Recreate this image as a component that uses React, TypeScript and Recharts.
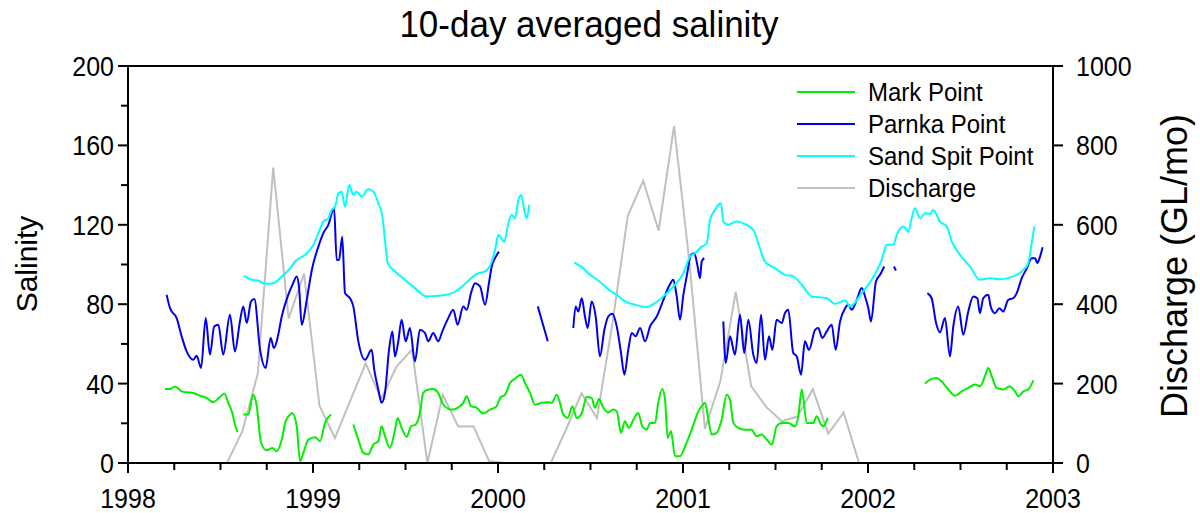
import { LineChart, Line, XAxis, YAxis, ReferenceLine } from "recharts";

const FONT = '"Liberation Sans", Arial, Helvetica, sans-serif';

// [decimal year, salinity]; null marks a break in the record
const markPoint: [number, number | null][] = [
  [1998.2, 37.3], [1998.227, 37.3], [1998.254, 38.6], [1998.29, 36.1], [1998.317, 35.6], [1998.353, 35.3],
  [1998.389, 33.9], [1998.425, 32.8], [1998.461, 30.6], [1998.492, 32.8], [1998.521, 35], [1998.542, 30.3],
  [1998.564, 25.2], [1998.578, 19.4], [1998.593, 15.5], [1998.608, null],
  [1998.623, 24.4], [1998.65, 24.4], [1998.677, 34.4], [1998.696, 28.6], [1998.719, 10.2], [1998.75, 6.4],
  [1998.78, 7.6], [1998.804, 5.9], [1998.831, 11.8], [1998.852, 21], [1998.876, 24.4], [1998.888, 25.2],
  [1998.912, 18.5], [1998.93, 0.9], [1998.948, 5.1], [1998.975, 11.8], [1999.011, 13], [1999.038, 11],
  [1999.065, 20.2], [1999.097, 24.4], [1999.15, null],
  [1999.218, 19.4], [1999.245, 11.8], [1999.272, 5.1], [1999.299, 4.3], [1999.326, 9.3], [1999.353, 11],
  [1999.371, 18.5], [1999.389, 13.5], [1999.416, 7.6], [1999.44, 15.2], [1999.458, 22.7], [1999.479, 17.7],
  [1999.507, 13.2], [1999.53, 18.5], [1999.555, 19.4], [1999.578, 25.2], [1999.596, 35.3], [1999.623, 37],
  [1999.65, 37.3], [1999.677, 35.3], [1999.699, 30.3], [1999.731, 27.3], [1999.75, 26.9], [1999.782, 27.8],
  [1999.812, 30.3], [1999.831, 33.6], [1999.854, 28.6], [1999.885, 27.8], [1999.921, 24.9], [1999.957, 26.9],
  [1999.993, 28.6], [2000.011, 32.8], [2000.038, 34.4], [2000.065, 40.3], [2000.096, 42.8], [2000.124, 44.5],
  [2000.146, 40.3], [2000.173, 35.3], [2000.2, 29.4], [2000.236, 30.3], [2000.272, 30.6], [2000.29, 30.3],
  [2000.317, 34.4], [2000.335, 30.3], [2000.353, 24.4], [2000.377, 22.7], [2000.402, 28.6], [2000.425, 22.7],
  [2000.453, 25.2], [2000.479, 33.3], [2000.506, 32.8], [2000.524, 27.8], [2000.546, 32.3], [2000.569, 27.8],
  [2000.596, 25.5], [2000.623, 26.9], [2000.642, 26], [2000.665, 15.2], [2000.686, 21], [2000.708, 17.7],
  [2000.732, 21.9], [2000.758, 25.2], [2000.78, 18.5], [2000.804, 16.8], [2000.822, 20.2], [2000.849, 20.2],
  [2000.866, 30.3], [2000.888, 37.3], [2000.903, 31.9], [2000.917, 12.7], [2000.935, 16], [2000.957, 3.4],
  [2000.984, 3.4], [2001.011, 8.4], [2001.047, 16.8], [2001.083, 26], [2001.101, 28.6], [2001.119, 30.3],
  [2001.137, 21.9], [2001.155, 14.3], [2001.182, 15.2], [2001.209, 21.9], [2001.236, 34.4], [2001.254, 31.9],
  [2001.272, 20.2], [2001.299, 17.7], [2001.335, 16.8], [2001.371, 16.8], [2001.398, 13.5], [2001.425, 14.3],
  [2001.453, 11.8], [2001.48, 9.3], [2001.506, 18.5], [2001.534, 20.2], [2001.569, 20.2], [2001.605, 18.5],
  [2001.623, 23.5], [2001.642, 37], [2001.669, 20.2], [2001.704, 20.2], [2001.723, 23.5], [2001.746, 19.4],
  [2001.759, 18.5], [2001.782, 22.7], [2002.0, null],
  [2002.308, 40], [2002.335, 42], [2002.371, 42.8], [2002.398, 41.1], [2002.434, 37], [2002.47, 33.9],
  [2002.507, 36.1], [2002.542, 37.8], [2002.578, 39.5], [2002.605, 38.6], [2002.632, 43.7], [2002.65, 47.9],
  [2002.669, 43.7], [2002.696, 37.8], [2002.731, 37], [2002.764, 38.6], [2002.795, 36.1], [2002.812, 33.6],
  [2002.84, 36.1], [2002.866, 37], [2002.894, 41.6],
];

const parnkaPoint: [number, number | null][] = [
  [1998.209, 84.7], [1998.227, 78], [1998.263, 73], [1998.29, 63.8], [1998.317, 56.2], [1998.353, 52],
  [1998.371, 54], [1998.395, 47.9], [1998.42, 73], [1998.443, 54.6], [1998.466, 68.8], [1998.488, 69.7],
  [1998.515, 54.6], [1998.551, 74.7], [1998.578, 56.2], [1998.605, 71.3], [1998.623, 78.9], [1998.642, 70.5],
  [1998.665, 81.4], [1998.683, 82.6], [1998.714, 57], [1998.744, 47.9], [1998.771, 63], [1998.789, 57.9],
  [1998.812, 64.6], [1998.831, 73.8], [1998.866, 84.7], [1998.89, 90], [1998.912, 94], [1998.925, 88],
  [1998.939, 69.7], [1998.966, 82], [1998.993, 97], [1999.029, 109], [1999.056, 115.8], [1999.083, 120],
  [1999.114, 128.3], [1999.128, 102.3], [1999.141, 102.3], [1999.158, 114], [1999.173, 85.6], [1999.2, 83],
  [1999.218, 78.9], [1999.245, 61.3], [1999.281, 52], [1999.317, 57], [1999.331, 47], [1999.353, 37],
  [1999.371, 30.3], [1999.389, 35.3], [1999.411, 57], [1999.429, 66.3], [1999.443, 53.7], [1999.461, 61.3],
  [1999.479, 72.2], [1999.501, 61.3], [1999.524, 68], [1999.551, 51.2], [1999.578, 67.1], [1999.605, 65.5],
  [1999.623, 61.3], [1999.65, 65.5], [1999.677, 61.3], [1999.699, 66.3], [1999.731, 73], [1999.758, 77.2],
  [1999.782, 69.7], [1999.812, 78.9], [1999.831, 77.2], [1999.854, 85.6], [1999.876, 90.6], [1999.903, 89],
  [1999.93, 79.7], [1999.951, 90.6], [1999.966, 99], [1999.984, 103.2], [2000.005, 106.5], [2000.1, null],
  [2000.215, 78.9], [2000.269, 61.3], [2000.33, null],
  [2000.407, 68], [2000.42, 78.9], [2000.434, 76.3], [2000.453, 83], [2000.47, 73.8], [2000.485, 68],
  [2000.506, 81.4], [2000.528, 73.8], [2000.551, 53.7], [2000.575, 67.1], [2000.596, 73.8], [2000.618, 75.2],
  [2000.642, 68.8], [2000.665, 55.4], [2000.683, 44.5], [2000.704, 57], [2000.723, 65.5], [2000.744, 63.8],
  [2000.768, 68], [2000.795, 61.3], [2000.822, 68.8], [2000.858, 73.8], [2000.894, 82.2], [2000.924, 89],
  [2000.948, 92.3], [2000.966, 83.9], [2000.984, 72.2], [2001.002, 84.7], [2001.02, 94], [2001.043, 104.9],
  [2001.061, 105.7], [2001.079, 99], [2001.092, 93.1], [2001.101, 101.5], [2001.115, 103.2], [2001.16, null],
  [2001.218, 71.3], [2001.231, 50.4], [2001.254, 63.8], [2001.281, 54.6], [2001.308, 74.7], [2001.331, 55.4],
  [2001.353, 72.2], [2001.38, 54.6], [2001.398, 50.4], [2001.422, 74.7], [2001.443, 52], [2001.465, 63.8],
  [2001.483, 57], [2001.506, 72.2], [2001.534, 70.5], [2001.551, 75.5], [2001.569, 77.2], [2001.596, 55.4],
  [2001.615, 53.7], [2001.638, 44.5], [2001.659, 61.3], [2001.681, 57], [2001.714, 67.1], [2001.731, 68],
  [2001.753, 63], [2001.777, 66.3], [2001.804, 69.7], [2001.825, 57], [2001.849, 71.3], [2001.876, 78],
  [2001.894, 79.7], [2001.912, 77.2], [2001.939, 82.2], [2001.966, 88.1], [2001.984, 83.9], [2002.002, 78],
  [2002.016, 71.3], [2002.043, 91.4], [2002.065, 94.8], [2002.088, 99], [2002.12, null],
  [2002.14, 99], [2002.151, 97], [2002.2, null],
  [2002.321, 85.6], [2002.344, 83], [2002.368, 70.5], [2002.389, 65.8], [2002.416, 73], [2002.443, 53.7],
  [2002.461, 68.8], [2002.488, 78.9], [2002.515, 64.6], [2002.542, 76.3], [2002.569, 83.9], [2002.591, 83],
  [2002.605, 75.5], [2002.623, 83], [2002.65, 84.7], [2002.663, 78.9], [2002.686, 75.5], [2002.71, 78],
  [2002.731, 76.3], [2002.758, 82.2], [2002.785, 83], [2002.804, 85.6], [2002.831, 93.1], [2002.858, 98],
  [2002.885, 103.2], [2002.903, 103.2], [2002.915, 100.7], [2002.93, 104], [2002.944, 108.7],
];

const sandSpitPoint: [number, number | null][] = [
  [1998.629, 94.3], [1998.669, 92.3], [1998.704, 91.9], [1998.741, 90.3], [1998.785, 90.6], [1998.831, 94],
  [1998.876, 98], [1998.903, 101.5], [1998.957, 104.9], [1999.002, 109.9], [1999.029, 115.8], [1999.056, 121.6],
  [1999.083, 123.3], [1999.101, 127.5], [1999.119, 129.1], [1999.137, 135.9], [1999.155, 136.7], [1999.173, 129.1],
  [1999.196, 140], [1999.218, 135], [1999.236, 136.7], [1999.263, 134.2], [1999.299, 137.9], [1999.326, 136.7],
  [1999.353, 130.9], [1999.375, 124.1], [1999.389, 112.4], [1999.404, 100.7], [1999.443, 96.5], [1999.497, 92.3],
  [1999.551, 88.1], [1999.615, 83.9], [1999.677, 84.2], [1999.741, 85.2], [1999.785, 87.3], [1999.822, 90.3],
  [1999.885, 95.3], [1999.93, 96.5], [1999.966, 101.5], [1999.984, 107.4], [2000.002, 114.9], [2000.034, 111.5],
  [2000.056, 120.8], [2000.074, 125], [2000.092, 123.3], [2000.11, 132.5], [2000.124, 135], [2000.146, 125.8],
  [2000.155, 123.3], [2000.169, 130], [2000.3, null],
  [2000.412, 101], [2000.453, 98.7], [2000.488, 95.6], [2000.542, 91.9], [2000.605, 86.9], [2000.642, 84.7],
  [2000.686, 81.4], [2000.741, 79.7], [2000.804, 78.6], [2000.849, 80.6], [2000.903, 84.7], [2000.957, 89.8],
  [2001.002, 95.6], [2001.038, 104], [2001.065, 105.7], [2001.101, 109], [2001.128, 110.7], [2001.146, 122.5],
  [2001.173, 127.5], [2001.191, 130], [2001.205, 130.9], [2001.218, 121.6], [2001.245, 120], [2001.29, 121.6],
  [2001.335, 120.3], [2001.38, 117.4], [2001.407, 110.7], [2001.443, 101.5], [2001.497, 98.2], [2001.551, 94.8],
  [2001.596, 94], [2001.642, 89.8], [2001.696, 83.9], [2001.777, 83], [2001.822, 80.2], [2001.876, 81.9],
  [2001.903, 78.9], [2001.966, 85.6], [2002.02, 92.3], [2002.074, 102.3], [2002.101, 109.9], [2002.137, 109.9],
  [2002.155, 114.9], [2002.191, 119.1], [2002.218, 116.6], [2002.236, 123.3], [2002.254, 128.3], [2002.281, 123.3],
  [2002.308, 125.8], [2002.335, 125.5], [2002.353, 127.5], [2002.389, 121.6], [2002.426, 119.1], [2002.453, 111.5],
  [2002.497, 104.9], [2002.551, 99], [2002.605, 92.3], [2002.659, 93.1], [2002.714, 92.6], [2002.785, 94],
  [2002.84, 97.3], [2002.866, 100.7], [2002.885, 110.7], [2002.899, 119.1],
];

// monthly discharge, GL/mo, Jan 1998 .. Dec 2002
const dischargeMonthly = [
  0, 0, 0, 0, 0, 0, 0, 80, 226, 744, 364, 477,
  144, 63, 157, 251, 161, 243, 286, 0, 172, 92, 92, 5,
  0, 0, 0, 0, 85, 176, 113, 351, 623, 711, 585, 849,
  504, 86, 205, 431, 194, 140, 105, 117, 186, 74, 127, 0,
  0, 0, 0, 0, 0, 0, 0, 0, 0, 0, 0, 0,
];

const yearTicks = [
  1998, 1998.25, 1998.5, 1998.75, 1999, 1999.25, 1999.5, 1999.75, 2000, 2000.25, 2000.5, 2000.75,
  2001, 2001.25, 2001.5, 2001.75, 2002, 2002.25, 2002.5, 2002.75, 2003,
];
const salinityTicks = [0, 20, 40, 60, 80, 100, 120, 140, 160, 180, 200];
const dischargeTicks = [0, 200, 400, 600, 800, 1000];

const toRows = (pts: [number, number | null][]) => pts.map(([t, v]) => ({ t, v }));
const dischargeRows = dischargeMonthly.map((v, i) => ({ t: 1998 + (i + 0.42) / 12, v }));

const series = [
  { name: "Mark Point", color: "#00f000", rows: toRows(markPoint) },
  { name: "Parnka Point", color: "#0000f0", rows: toRows(parnkaPoint) },
  { name: "Sand Spit Point", color: "#00ffff", rows: toRows(sandSpitPoint) },
];
const legendItems = [...series.map((s) => ({ name: s.name, color: s.color })), { name: "Discharge", color: "#c0c0c0" }];

// the source picture's lettering is slightly taller than wide
const stretch = (x: number, y: number, sy: number) => `translate(${x} ${y}) scale(1 ${sy})`;

function YearTick({ x, y, payload }: any) {
  const major = Number.isInteger(payload.value);
  return (
    <g>
      <line x1={x} x2={x} y1={y} y2={y + (major ? 10 : 7)} stroke="#000" strokeWidth={2} />
      {major && (
        <text transform={stretch(x, y + 45, 1.12)} textAnchor="middle" fontFamily={FONT} fontSize={25} fill="#000">
          {payload.value}
        </text>
      )}
    </g>
  );
}

function SalinityTick({ x, y, payload }: any) {
  const major = payload.value % 40 === 0;
  return (
    <g>
      <line x1={x} x2={x - (major ? 10 : 7)} y1={y} y2={y} stroke="#000" strokeWidth={2} />
      {major && (
        <text transform={stretch(x - 14, y + 10, 1.12)} textAnchor="end" fontFamily={FONT} fontSize={25} fill="#000">
          {payload.value}
        </text>
      )}
    </g>
  );
}

function DischargeTick({ x, y, payload }: any) {
  return (
    <g>
      <line x1={x} x2={x + 10} y1={y} y2={y} stroke="#000" strokeWidth={2} />
      <text transform={stretch(x + 23, y + 10, 1.12)} textAnchor="start" fontFamily={FONT} fontSize={25} fill="#000">
        {payload.value}
      </text>
    </g>
  );
}

export default function App() {
  return (
    <div style={{ position: "relative", width: 1200, height: 513, background: "#fff" }}>
      <style>{"body{margin:0}"}</style>
      <LineChart width={1200} height={513} margin={{ top: 66, right: 47, bottom: 10, left: 48 }}>
        <XAxis
          type="number"
          dataKey="t"
          domain={[1998, 2003]}
          ticks={yearTicks}
          interval={0}
          height={40}
          tickSize={0}
          tickMargin={0}
          tickLine={false}
          tick={<YearTick />}
          axisLine={{ stroke: "#000", strokeWidth: 2 }}
          allowDataOverflow
        />
        <YAxis
          yAxisId="sal"
          domain={[0, 200]}
          ticks={salinityTicks}
          interval={0}
          width={80}
          tickSize={0}
          tickMargin={0}
          tickLine={false}
          tick={<SalinityTick />}
          axisLine={{ stroke: "#000", strokeWidth: 2 }}
        />
        <YAxis
          yAxisId="q"
          orientation="right"
          domain={[0, 1000]}
          ticks={dischargeTicks}
          interval={0}
          width={100}
          tickSize={0}
          tickMargin={0}
          tickLine={false}
          tick={<DischargeTick />}
          axisLine={{ stroke: "#000", strokeWidth: 2 }}
        />
        <ReferenceLine yAxisId="sal" y={200} stroke="#000" strokeWidth={2} />
        <Line
          yAxisId="q"
          data={dischargeRows}
          dataKey="v"
          name="Discharge"
          stroke="#c0c0c0"
          strokeWidth={2}
          dot={false}
          isAnimationActive={false}
        />
        {series.map((s) => (
          <Line
            key={s.name}
            yAxisId="sal"
            type="monotone"
            data={s.rows}
            dataKey="v"
            name={s.name}
            stroke={s.color}
            strokeWidth={2}
            dot={false}
            connectNulls={false}
            isAnimationActive={false}
          />
        ))}
      </LineChart>
      <svg
        width={1200}
        height={513}
        style={{ position: "absolute", left: 0, top: 0, pointerEvents: "none" }}
        fontFamily={FONT}
      >
        <text transform={stretch(589, 37, 1.08)} textAnchor="middle" fontSize={35} fill="#000">
          10-day averaged salinity
        </text>
        <text transform="translate(37 264) rotate(-90)" textAnchor="middle" fontSize={30} fill="#000">
          Salinity
        </text>
        <text transform="translate(1187 266) rotate(-90)" textAnchor="middle" fontSize={36} fill="#000">
          Discharge (GL/mo)
        </text>
        {legendItems.map((item, i) => {
          const y = 92 + i * 32;
          return (
            <g key={item.name}>
              <line x1={797} x2={855} y1={y} y2={y} stroke={item.color} strokeWidth={2} />
              <text transform={stretch(868, y + 9, 1.07)} fontSize={24} fill="#000">
                {item.name}
              </text>
            </g>
          );
        })}
      </svg>
    </div>
  );
}
